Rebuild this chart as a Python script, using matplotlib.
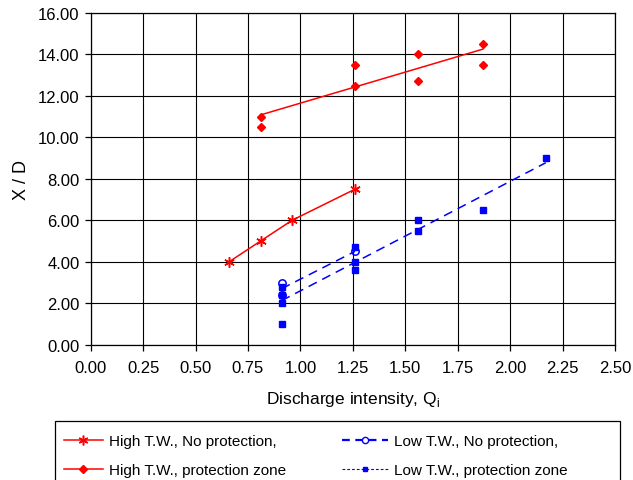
import numpy as np
import matplotlib
matplotlib.use("Agg")
import matplotlib.pyplot as plt
from matplotlib.lines import Line2D
from matplotlib.patches import Rectangle
from matplotlib.legend_handler import HandlerLine2D

plt.rcParams['font.family'] = ['Liberation Sans', 'DejaVu Sans']

# High tail water, no protection
hi_np_q = [0.66, 0.81, 0.96, 1.26]
hi_np_xd = [4.0, 5.0, 6.0, 7.5]

# High tail water, protection zone
hi_pz_q = [0.81, 0.81, 1.26, 1.26, 1.56, 1.56, 1.87, 1.87]
hi_pz_xd = [11.0, 10.5, 13.5, 12.5, 14.0, 12.7, 14.5, 13.5]

# Low tail water, no protection
lo_np_q = [0.91, 0.91, 1.26]
lo_np_xd = [3.0, 2.4, 4.5]

# Low tail water, protection zone
lo_pz_q = [0.91, 0.91, 0.91, 0.91, 1.26, 1.26, 1.26, 1.56, 1.56, 1.87, 2.17]
lo_pz_xd = [1.0, 2.0, 2.4, 2.8, 4.7, 4.0, 3.6, 6.0, 5.5, 6.5, 9.0]

x_ticks = [0.0, 0.25, 0.5, 0.75, 1.0, 1.25, 1.5, 1.75, 2.0, 2.25, 2.5]
y_ticks = [0, 2, 4, 6, 8, 10, 12, 14, 16]

labels_high = ["High T.W., No protection,", "High T.W., protection zone"]
labels_low = ["Low T.W., No protection,", "Low T.W., protection zone"]

RED = "#ff0000"
BLUE = "#0000ff"


def trend(q, xd):
    q = np.asarray(q, float)
    slope, icpt = np.polyfit(q, np.asarray(xd, float), 1)
    qq = np.array([q.min(), q.max()])
    return qq, slope * qq + icpt


class EndMarkerHandler(HandlerLine2D):
    """Legend handler that puts the single marker at the right end of the line."""
    def get_xdata(self, legend, xdescent, ydescent, width, height, fontsize):
        return [-xdescent, -xdescent + width], [-xdescent + width]


W, H = 633, 481
fig = plt.figure(figsize=(W / 100, H / 100), dpi=100)
ax = fig.add_axes([90.7 / W, 1 - 345.7 / H, (615 - 90.7) / W, (345.7 - 14) / H])

ast = (6, 2, 0)

# High T.W., no protection: connected points
ax.plot(hi_np_q, hi_np_xd, color=RED, lw=1.1, marker=ast, ms=7.5, mew=1.1, zorder=4)

# High T.W., protection zone: points + linear trend
tq, tx = trend(hi_pz_q, hi_pz_xd)
ax.plot(tq, tx, color=RED, lw=1.1, zorder=3)
ax.plot(hi_pz_q, hi_pz_xd, ls='none', marker='D', ms=4.3, color=RED, zorder=4)

# Low T.W., protection zone: squares + dashed trend
tq, tx = trend(lo_pz_q, lo_pz_xd)
ax.plot(tq, tx, color=BLUE, lw=1.1, ls=(0, (6, 4)), zorder=3)
ax.plot(lo_pz_q, lo_pz_xd, ls='none', marker='s', ms=4, color=BLUE, zorder=4)

# Low T.W., no protection: open circles + dashed trend
tq, tx = trend(lo_np_q, lo_np_xd)
ax.plot(tq, tx, color=BLUE, lw=1.1, ls=(0, (6, 4)), zorder=3)
ax.plot(lo_np_q, lo_np_xd, ls='none', marker='o', ms=5.3, mfc='none', mec=BLUE,
        mew=1.1, zorder=5)

ax.set_xlim(0, 2.5)
ax.set_ylim(0, 16)
ax.set_xticks(x_ticks)
ax.set_yticks(y_ticks)
ax.set_xticklabels([f"{v:.2f}" for v in x_ticks], fontsize=12)
ax.set_yticklabels([f"{v:.2f}" for v in y_ticks], fontsize=12)
ax.tick_params(direction='out', length=4, width=0.9, color='black', pad=4)
ax.tick_params(axis='x', pad=7)
ax.grid(True, color='black', lw=0.8)
ax.set_axisbelow(True)
for s in ax.spines.values():
    s.set_color('black')
    s.set_linewidth(0.9)

ax.set_xlabel("Discharge intensity, Q$_\\mathregular{i}$", fontsize=12.5, labelpad=10)
ax.set_ylabel("X / D", fontsize=13, labelpad=6)

# Legend: one frame around two single-column legends
fig.patches.append(Rectangle((55 / W, 1 - 492 / H), (620 - 55) / W, (492 - 422) / H,
                             transform=fig.transFigure, fill=False,
                             edgecolor='black', lw=0.9, clip_on=False))

h_high = [
    Line2D([], [], color=RED, lw=1.1, marker=ast, ms=7, mew=1.1),
    Line2D([], [], color=RED, lw=1.1, marker='D', ms=4),
]
h_low = [
    Line2D([], [], color=BLUE, lw=1.6, ls=(0, (3.5, 2.5)), marker='o', ms=4.5,
           mfc='none', mec=BLUE, mew=1.0),
    Line2D([], [], color=BLUE, lw=0.8, ls=(0, (2.5, 1.8)), marker='s', ms=3.5),
]

common = dict(loc='upper left', fontsize=11, frameon=False, handletextpad=0.4,
              labelspacing=0.95, borderaxespad=0, borderpad=0)
ytop = 1 - 435.5 / H
leg1 = fig.legend(h_high, labels_high,
                  handler_map={h: EndMarkerHandler(numpoints=1) for h in h_high},
                  bbox_to_anchor=(64 / W, ytop), handlelength=2.55, **common)
leg2 = fig.legend(h_low, labels_low,
                  handler_map={h: EndMarkerHandler(numpoints=1) for h in h_low},
                  bbox_to_anchor=(342 / W, ytop), handlelength=3.0, **common)

fig.savefig("out.png", dpi=100)
